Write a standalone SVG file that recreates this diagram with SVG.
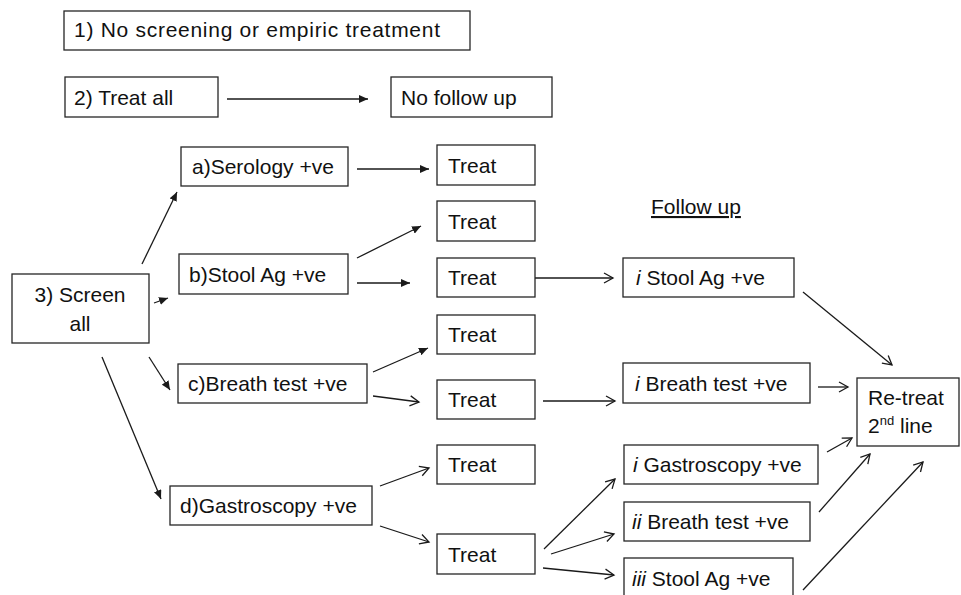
<svg xmlns="http://www.w3.org/2000/svg" width="961" height="595" viewBox="0 0 961 595">
<style>
  .box { fill: #ffffff; stroke: #262626; stroke-width: 1.3; }
  .t { font-family: "Liberation Sans", Arial, sans-serif; font-size: 21px; fill: #111111; }
  .it { font-style: italic; }
  .ln { stroke: #1a1a1a; stroke-width: 1.3; fill: none; }
  .f { marker-end: url(#filled); }
  .o { marker-end: url(#open); }
</style>
<defs>
  <marker id="filled" markerUnits="userSpaceOnUse" markerWidth="10" markerHeight="8" refX="9" refY="4" orient="auto">
    <path d="M0,0 L9,4 L0,8 Z" fill="#1a1a1a"/>
  </marker>
  <marker id="open" markerUnits="userSpaceOnUse" markerWidth="12" markerHeight="12" refX="10" refY="6" orient="auto">
    <path d="M1,1 L10,6 L1,11" fill="none" stroke="#1a1a1a" stroke-width="1.3"/>
  </marker>
</defs>
<rect x="0" y="0" width="961" height="595" fill="#ffffff"/>

<g id="connectors">
  <line class="ln f" x1="227" y1="99" x2="368" y2="99"/>
  <line class="ln f" x1="357" y1="169" x2="429" y2="169"/>
  <line class="ln f" x1="142" y1="264" x2="177" y2="192"/>
  <line class="ln f" x1="154" y1="303" x2="168" y2="298"/>
  <line class="ln f" x1="357" y1="258" x2="421" y2="226"/>
  <line class="ln f" x1="357" y1="283" x2="410" y2="283"/>
  <line class="ln f" x1="149" y1="357" x2="170" y2="390"/>
  <line class="ln f" x1="102" y1="357" x2="161" y2="499"/>
  <line class="ln f" x1="373" y1="372" x2="428" y2="348"/>
  <line class="ln o" x1="373" y1="396" x2="419" y2="402"/>
  <line class="ln o" x1="380" y1="486" x2="429" y2="468"/>
  <line class="ln o" x1="380" y1="526" x2="429" y2="542"/>
  <line class="ln o" x1="535" y1="278" x2="613" y2="278"/>
  <line class="ln o" x1="543" y1="401" x2="615" y2="401"/>
  <line class="ln o" x1="803" y1="292" x2="892" y2="365"/>
  <line class="ln o" x1="818" y1="387" x2="848" y2="387"/>
  <line class="ln o" x1="544" y1="549" x2="615" y2="479"/>
  <line class="ln o" x1="551" y1="554" x2="614" y2="534"/>
  <line class="ln o" x1="543" y1="568" x2="614" y2="575"/>
  <line class="ln o" x1="827" y1="452" x2="852" y2="438"/>
  <line class="ln o" x1="819" y1="512" x2="870" y2="454"/>
  <line class="ln o" x1="803" y1="590" x2="923" y2="462"/>
</g>

<g id="n1"><rect class="box" x="64" y="11" width="406" height="39"/><text class="t" x="74" y="37" textLength="366" lengthAdjust="spacing">1) No screening or empiric treatment</text></g>
<g id="n2"><rect class="box" x="65" y="77" width="153" height="40"/><text class="t" x="74" y="105">2) Treat all</text></g>
<g id="nofollow"><rect class="box" x="391" y="77" width="161" height="40"/><text class="t" x="401" y="105">No follow up</text></g>
<g id="n3"><rect class="box" x="12" y="274" width="137" height="69"/><text class="t" x="80" y="302" text-anchor="middle">3) Screen</text><text class="t" x="80" y="331" text-anchor="middle">all</text></g>
<g id="na"><rect class="box" x="181" y="147" width="167" height="39"/><text class="t" x="192" y="174">a)Serology +ve</text></g>
<g id="nb"><rect class="box" x="179" y="254" width="169" height="40"/><text class="t" x="189" y="282">b)Stool Ag +ve</text></g>
<g id="nc"><rect class="box" x="178" y="364" width="189" height="39"/><text class="t" x="188" y="391">c)Breath test +ve</text></g>
<g id="nd"><rect class="box" x="170" y="486" width="202" height="39"/><text class="t" x="180" y="513">d)Gastroscopy +ve</text></g>

<g id="treat1"><rect class="box" x="437" y="145" width="98" height="40"/><text class="t" x="448" y="173">Treat</text></g>
<g id="treat2"><rect class="box" x="437" y="201" width="98" height="40"/><text class="t" x="448" y="229">Treat</text></g>
<g id="treat3"><rect class="box" x="437" y="258" width="98" height="39"/><text class="t" x="448" y="285">Treat</text></g>
<g id="treat4"><rect class="box" x="437" y="315" width="98" height="39"/><text class="t" x="448" y="342">Treat</text></g>
<g id="treat5"><rect class="box" x="437" y="380" width="98" height="39"/><text class="t" x="448" y="407">Treat</text></g>
<g id="treat6"><rect class="box" x="437" y="445" width="98" height="39"/><text class="t" x="448" y="472">Treat</text></g>
<g id="treat7"><rect class="box" x="437" y="534" width="98" height="40"/><text class="t" x="448" y="562">Treat</text></g>

<g id="followup"><text class="t" x="651" y="214" text-decoration="underline">Follow up</text></g>

<g id="fStool"><rect class="box" x="623" y="258" width="171" height="39"/><text class="t" x="636" y="285"><tspan class="it">i</tspan> Stool Ag +ve</text></g>
<g id="fBreath"><rect class="box" x="623" y="363" width="187" height="40"/><text class="t" x="635" y="391"><tspan class="it">i</tspan> Breath test +ve</text></g>
<g id="fGastro"><rect class="box" x="624" y="445" width="194" height="39"/><text class="t" x="633" y="472"><tspan class="it">i</tspan> Gastroscopy +ve</text></g>
<g id="fiiBreath"><rect class="box" x="624" y="502" width="186" height="39"/><text class="t" x="632" y="529"><tspan class="it">ii</tspan> Breath test +ve</text></g>
<g id="fiiiStool"><rect class="box" x="624" y="558" width="169" height="42"/><text class="t" x="632" y="586"><tspan class="it">iii</tspan> Stool Ag +ve</text></g>

<g id="retreat"><rect class="box" x="857" y="378" width="102" height="68"/><text class="t" x="868" y="405">Re-treat</text><text class="t" x="868" y="433">2<tspan font-size="13" dy="-8">nd</tspan><tspan dy="8"> line</tspan></text></g>
</svg>
